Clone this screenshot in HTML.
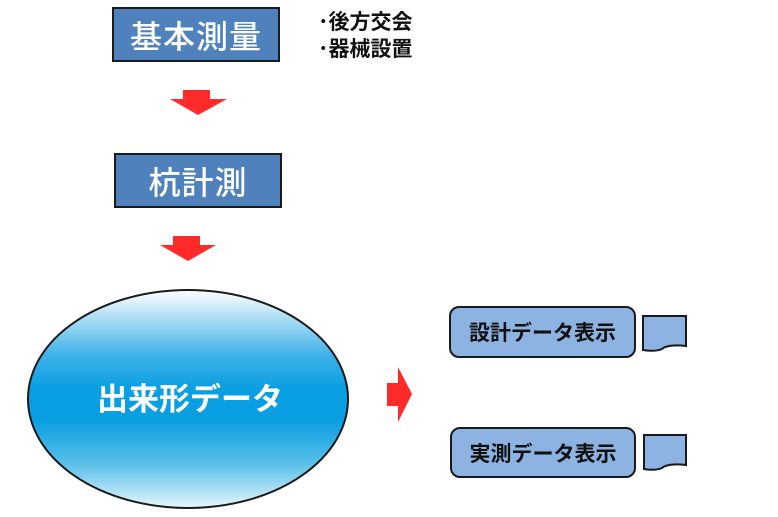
<!DOCTYPE html>
<html><head><meta charset="utf-8"><style>
body{margin:0;width:778px;height:517px;background:#fff;position:relative;overflow:hidden;font-family:"Liberation Sans","Noto Sans CJK JP",sans-serif}
.box{position:absolute;background:#4f81bd;border:2px solid #1a1a1a;color:#fff;font-size:32px;display:flex;align-items:center;justify-content:center;box-sizing:border-box;letter-spacing:1px;font-weight:500}
.rb{position:absolute;background:#8db3e2;border:2px solid #1a1a1a;border-radius:10px;box-sizing:border-box;display:flex;align-items:center;justify-content:center;font-size:21px;color:#111;font-weight:bold}
</style></head><body>
<div class="box" style="left:112px;top:7px;width:168px;height:55px">基本測量</div>
<div class="box" style="left:114px;top:153px;width:168px;height:55px">杭計測</div>
<div style="position:absolute;left:318px;top:9px;font-size:21px;line-height:27px;color:#111;font-weight:bold">･後方交会<br>･器械設置</div>
<svg width="778" height="517" style="position:absolute;left:0;top:0">
<defs><linearGradient id="g" x1="0" y1="0" x2="0" y2="1">
<stop offset="0" stop-color="#ffffff"/><stop offset="0.3" stop-color="#3fb2e8"/><stop offset="0.45" stop-color="#0a9fe2"/><stop offset="0.6" stop-color="#0a9fe2"/><stop offset="0.8" stop-color="#5cc0ea"/><stop offset="1" stop-color="#e6f6fc"/></linearGradient></defs>
<polygon points="183,90 210,90 210,99 227,99 198,115 170,99 183,99" fill="#ff2a2a"/>
<polygon points="173,236 200,236 200,245 216,245 188,261 160,245 173,245" fill="#ff2a2a"/>
<polygon points="387,383 398,383 398,367 412,394 398,422 398,406 387,406" fill="#ff2a2a"/>
<ellipse cx="188" cy="399" rx="160" ry="109" fill="url(#g)" stroke="#1a1a1a" stroke-width="2"/>
<text x="190" y="410" text-anchor="middle" font-size="31" font-weight="bold" fill="#fff" font-family="Liberation Sans, Noto Sans CJK JP, sans-serif">出来形データ</text>
<path d="M643,316 H686 V346 Q668,344 662,349 Q655,352 643,350 Z" fill="#8db3e2" stroke="#1a1a1a" stroke-width="2"/>
<path d="M644,435 H686 V465 Q668,463 662,468 Q655,471 644,469 Z" fill="#8db3e2" stroke="#1a1a1a" stroke-width="2"/>
</svg>
<div class="rb" style="left:449px;top:306px;width:187px;height:52px">設計データ表示</div>
<div class="rb" style="left:450px;top:427px;width:186px;height:51px">実測データ表示</div>
</body></html>
